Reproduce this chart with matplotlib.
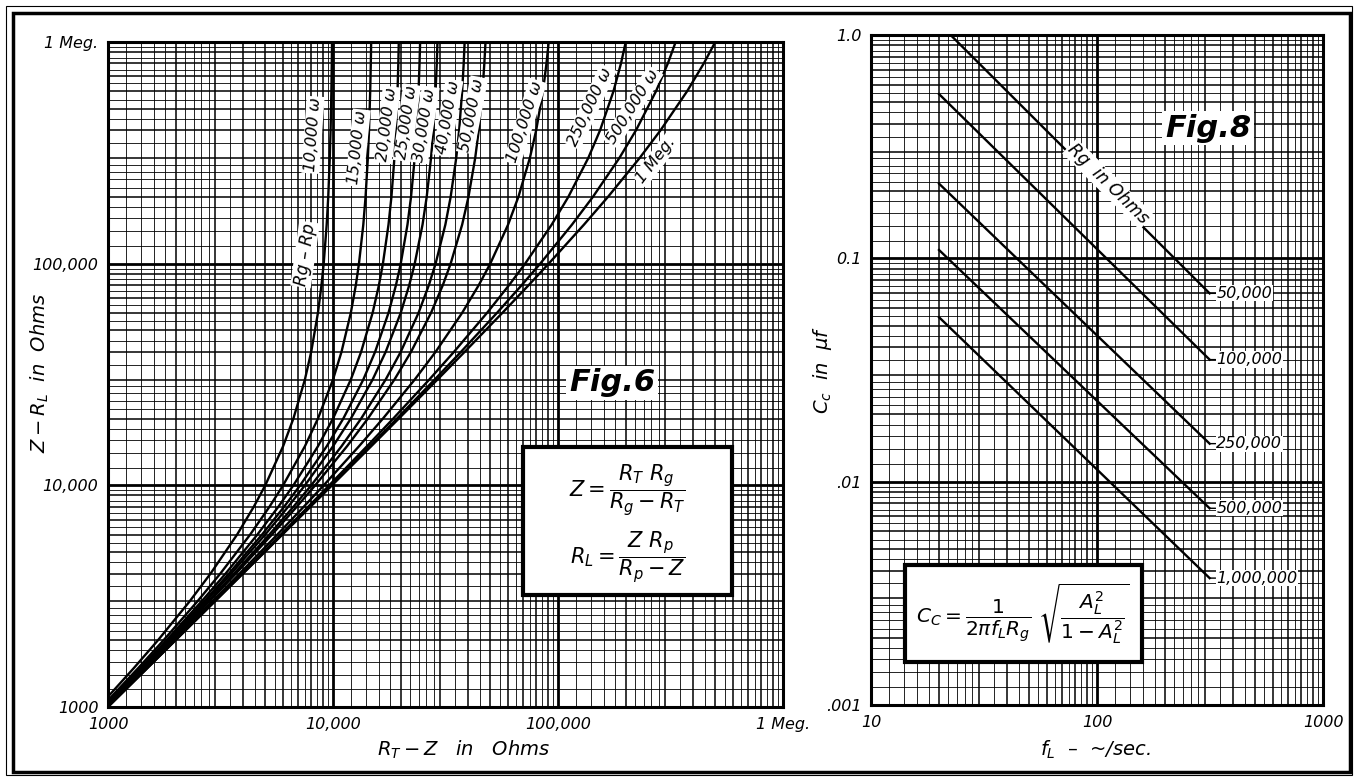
import numpy as np
import matplotlib.pyplot as plt
from matplotlib.patches import Rectangle

plt.rcParams['font.family'] = ['DejaVu Sans']
plt.rcParams['mathtext.fontset'] = 'dejavusans'

# ---- Fig.6 : Z - R_L against R_T - Z for several Rg - Rp
z_vals = [1000, 1500, 2000, 3000, 4000, 6000, 8000, 10000, 15000, 20000, 30000,
          40000, 60000, 80000, 100000, 150000, 200000, 300000, 400000, 600000,
          800000, 1000000]
rt_10k = [909, 1304, 1667, 2308, 2857, 3750, 4444, 5000, 6000, 6667, 7500,
          8000, 8571, 8889, 9091, 9375, 9524, 9677, 9756, 9836, 9877, 9901]
rt_15k = [938, 1364, 1765, 2500, 3158, 4286, 5217, 6000, 7500, 8571, 10000,
          10909, 12000, 12632, 13043, 13636, 13953, 14286, 14458, 14634, 14724, 14778]
rt_20k = [952, 1395, 1818, 2609, 3333, 4615, 5714, 6667, 8571, 10000, 12000,
          13333, 15000, 16000, 16667, 17647, 18182, 18750, 19048, 19355, 19512, 19608]
rt_25k = [962, 1415, 1852, 2679, 3448, 4839, 6061, 7143, 9375, 11111, 13636,
          15385, 17647, 19048, 20000, 21429, 22222, 23077, 23529, 24000, 24242, 24390]
rt_30k = [968, 1429, 1875, 2727, 3529, 5000, 6316, 7500, 10000, 12000, 15000,
          17143, 20000, 21818, 23077, 25000, 26087, 27273, 27907, 28571, 28916, 29126]
rt_40k = [976, 1446, 1905, 2791, 3636, 5217, 6667, 8000, 10909, 13333, 17143,
          20000, 24000, 26667, 28571, 31579, 33333, 35294, 36364, 37500, 38095, 38462]
rt_50k = [980, 1456, 1923, 2830, 3704, 5357, 6897, 8333, 11538, 14286, 18750,
          22222, 27273, 30769, 33333, 37500, 40000, 42857, 44444, 46154, 47059, 47619]
rt_100k = [990, 1478, 1961, 2913, 3846, 5660, 7407, 9091, 13043, 16667, 23077,
           28571, 37500, 44444, 50000, 60000, 66667, 75000, 80000, 85714, 88889, 90909]
rt_250k = [996, 1491, 1984, 2964, 3937, 5859, 7752, 9615, 14151, 18519, 26786,
           34483, 48387, 60606, 71429, 93750, 111111, 136364, 153846, 176471, 190476, 200000]
rt_500k = [998, 1496, 1992, 2982, 3968, 5929, 7874, 9804, 14563, 19231, 28302,
           37037, 53571, 68966, 83333, 115385, 142857, 187500, 222222, 272727, 307692, 333333]
rt_1meg = [999, 1498, 1996, 2991, 3984, 5964, 7937, 9901, 14778, 19608, 29126,
           38462, 56604, 74074, 90909, 130435, 166667, 230769, 285714, 375000, 444444, 500000]
fig6_curves = [rt_10k, rt_15k, rt_20k, rt_25k, rt_30k, rt_40k, rt_50k,
               rt_100k, rt_250k, rt_500k, rt_1meg]
fig6_labels = ["10,000 ω", "15,000 ω", "20,000 ω", "25,000 ω", "30,000 ω", "40,000 ω",
               "50,000 ω", "100,000 ω", "250,000 ω", "500,000 ω", "1 Meg."]
# where the curve labels sit (data coords) and their angle
fig6_lab_x = [8150, 12900, 17400, 21300, 25600, 32400, 41500, 71300, 139000, 215000, 273000]
fig6_lab_y = [381e3, 333e3, 423e3, 432e3, 423e3, 455e3, 469e3, 436e3, 510e3, 510e3, 294e3]
fig6_lab_rot = [86, 84, 83, 82, 81, 80, 79, 72, 65, 58, 52]
fig6_ticks = [1e3, 1e4, 1e5, 1e6]
fig6_ticklabels = ["1000", "10,000", "100,000", "1 Meg."]

# ---- Fig.8 : C_c against f_L for several Rg
fig8_labels = ["50,000", "100,000", "250,000", "500,000", "1,000,000"]
f_start = [22.5, 20, 20, 20, 20]
c_start = [1.0, 0.544, 0.216, 0.109, 0.0545]
f_end = [315, 315, 315, 315, 315]
c_end = [0.0697, 0.0352, 0.0148, 0.0076, 0.0037]
fig8_xticks = [10, 100, 1000]
fig8_xticklabels = ["10", "100", "1000"]
fig8_yticks = [0.001, 0.01, 0.1, 1.0]
fig8_yticklabels = [".001", ".01", "0.1", "1.0"]

W, H = 1355, 778
fig = plt.figure(figsize=(W / 100, H / 100), dpi=100)
fig.patch.set_facecolor('white')


def log_paper(ax, xdec, ydec):
    subs = np.concatenate([np.arange(12, 30, 2), np.arange(30, 100, 5)]) / 10.0
    for d in range(*xdec):
        ax.axvline(10.0 ** d, color='k', lw=2.0, zorder=1)
        for m in subs:
            lw = 1.1 if m == int(m) else 0.6
            ax.axvline(m * 10.0 ** d, color='k', lw=lw, zorder=1)
    for d in range(*ydec):
        ax.axhline(10.0 ** d, color='k', lw=2.0, zorder=1)
        for m in subs:
            lw = 1.1 if m == int(m) else 0.6
            ax.axhline(m * 10.0 ** d, color='k', lw=lw, zorder=1)
    for s in ax.spines.values():
        s.set_linewidth(2.2)
    ax.tick_params(which='both', length=0, pad=7, labelsize=11.5)
    for t in ax.get_xticklabels() + ax.get_yticklabels():
        t.set_fontstyle('italic')


txt = dict(style='italic', color='k')
wbox = dict(fc='white', ec='none', pad=1)

# ---------------- Fig.6 ----------------
ax1 = fig.add_axes([108 / W, 1 - 707 / H, 675 / W, 665 / H])
ax1.set_xscale('log')
ax1.set_yscale('log')
ax1.set_xlim(1e3, 1e6)
ax1.set_ylim(1e3, 1e6)
ax1.set_xticks(fig6_ticks)
ax1.set_xticklabels(fig6_ticklabels)
ax1.set_yticks(fig6_ticks)
ax1.set_yticklabels(fig6_ticklabels)
ax1.minorticks_off()
log_paper(ax1, (3, 6), (3, 6))

for rt in fig6_curves:
    ax1.plot(rt, z_vals, color='k', lw=1.7, zorder=3, solid_capstyle='round')
for lab, x, y, r in zip(fig6_labels, fig6_lab_x, fig6_lab_y, fig6_lab_rot):
    ax1.text(x, y, lab, rotation=r, ha='center', va='center', fontsize=11.5,
             bbox=wbox, zorder=4, rotation_mode='anchor', **txt)
ax1.text(7510, 110e3, "Rg – Rp", rotation=82, ha='center', va='center',
         fontsize=12, bbox=wbox, zorder=4, rotation_mode='anchor', **txt)
ax1.text(174e3, 29e3, "Fig.6", fontsize=22, weight='bold', ha='center', va='center',
         bbox=dict(fc='white', ec='none', pad=2), zorder=4, **txt)

ax1.add_patch(Rectangle((0.615, 0.168), 0.309, 0.223, transform=ax1.transAxes,
                        fc='white', ec='k', lw=3, zorder=5))
ax1.text(0.770, 0.326, r"$Z = \dfrac{R_T\ R_g}{R_g - R_T}$", transform=ax1.transAxes,
         ha='center', va='center', fontsize=15, zorder=6)
ax1.text(0.770, 0.226, r"$R_L = \dfrac{Z\ R_p}{R_p - Z}$", transform=ax1.transAxes,
         ha='center', va='center', fontsize=15, zorder=6)

fig.text(40 / W, 1 - 373 / H, r"$Z - R_L$  in  Ohms", rotation=90, ha='center',
         va='center', fontsize=14, **txt)
fig.text(464 / W, 1 - 750 / H, r"$R_T - Z$   in   Ohms", ha='center', va='center',
         fontsize=14, **txt)

# ---------------- Fig.8 ----------------
ax2 = fig.add_axes([871 / W, 1 - 705 / H, 452 / W, 670 / H])
ax2.set_xscale('log')
ax2.set_yscale('log')
ax2.set_xlim(10, 1000)
ax2.set_ylim(0.001, 1.0)
ax2.set_xticks(fig8_xticks)
ax2.set_xticklabels(fig8_xticklabels)
ax2.set_yticks(fig8_yticks)
ax2.set_yticklabels(fig8_yticklabels)
ax2.minorticks_off()
log_paper(ax2, (1, 3), (-3, 0))

for lab, fs, cs, fe, ce in zip(fig8_labels, f_start, c_start, f_end, c_end):
    ax2.plot([fs, fe], [cs, ce], color='k', lw=1.7, zorder=3)
    ax2.annotate(lab, xy=(fe, ce), xytext=(fe * 1.07, ce), ha='left', va='center',
                 fontsize=11.5, bbox=dict(fc='white', ec='none', pad=0.5), zorder=4,
                 arrowprops=dict(arrowstyle='-', color='k', lw=1.0,
                                 shrinkA=0, shrinkB=0), **txt)
ax2.text(112, 0.215, "Rg  in Ohms", rotation=-44.6, ha='center', va='center',
         fontsize=12.5, bbox=wbox, zorder=4, rotation_mode='anchor', **txt)
ax2.text(310, 0.383, "Fig.8", fontsize=22, weight='bold', ha='center', va='center',
         bbox=dict(fc='white', ec='none', pad=2), zorder=4, **txt)

ax2.add_patch(Rectangle((0.075, 0.064), 0.524, 0.145, transform=ax2.transAxes,
                        fc='white', ec='k', lw=3, zorder=5))
ax2.text(0.337, 0.137,
         r"$C_C = \dfrac{1}{2\pi f_L R_g}\ \sqrt{\dfrac{A_L^2}{1 - A_L^2}}$",
         transform=ax2.transAxes, ha='center', va='center', fontsize=14.5, zorder=6)

fig.text(823 / W, 1 - 370 / H, r"$C_c$  in  $\mu f$", rotation=90, ha='center',
         va='center', fontsize=14, **txt)
fig.text(1095 / W, 1 - 750 / H, r"$f_L$  –  ~/sec.", ha='center', va='center',
         fontsize=14, **txt)

# double frame round the sheet
fig.add_artist(Rectangle((6 / W, 3 / H), 1346 / W, 769 / H, transform=fig.transFigure,
                         fill=False, ec='k', lw=0.8))
fig.add_artist(Rectangle((13 / W, 6 / H), 1337 / W, 759 / H, transform=fig.transFigure,
                         fill=False, ec='k', lw=2.5))

fig.savefig('out.png', dpi=100)
